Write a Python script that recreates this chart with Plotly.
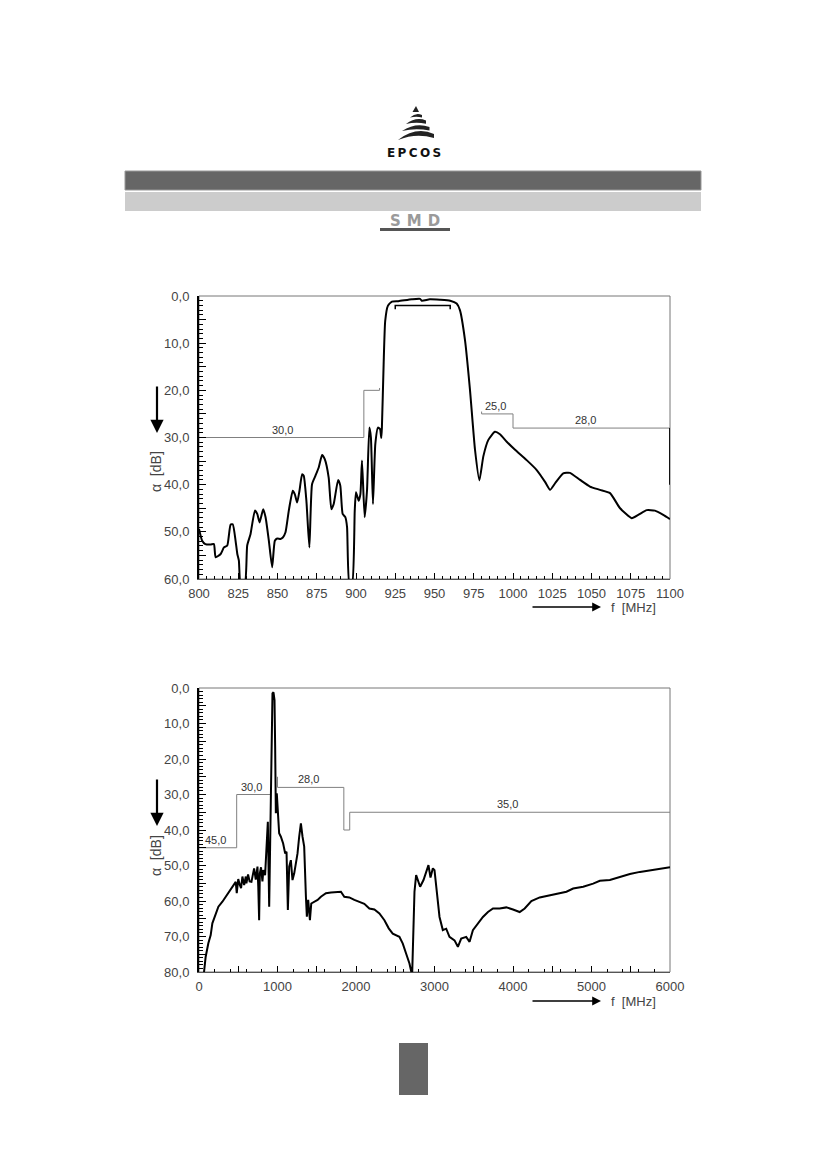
import plotly.graph_objects as go

# page is 826x1169; the browser adds an 8 px body margin, so the figure is drawn 8 px in
PAGE_W, PAGE_H = 826, 1169
OFF = 8
W, H = PAGE_W - OFF, PAGE_H - 2 * OFF

# ---------------- data: top chart (800 - 1100 MHz) ----------------
top_f = [800, 802, 804, 807.4, 809.5, 810.6, 813.8, 815.9, 818, 820.1, 821.5, 823.3, 824.4, 825.4, 826.5, 829.2,
         830.7, 832.8, 835.6, 837.1, 838.6, 840.9, 842.4, 844.5, 846.6, 848.3, 849.8, 851.9, 853.4, 855.1,
         857.2, 859.7, 861, 862.5, 864, 865.7, 866.7, 868.4, 870.3, 872, 874.2, 876.3, 878.4, 880.1, 882.6,
         884.3, 885.8, 888.6, 890, 891.5, 893.2, 894.3, 895.8, 897.5, 899.2, 900, 901.7, 902.8, 903.8, 905.5,
         907, 908.5, 909.5, 910.8, 912.3, 914, 915.3, 916.1, 916.5, 917.6, 918.6, 920.3, 922.9, 927, 935.6,
         940.8, 941.9, 947, 953.5, 960, 964.1, 966.2, 969.4, 972.6, 975.8, 978.6, 981.1, 984.3, 988.5,
         991.7, 996, 1001.3, 1008.7, 1015.1, 1020.4, 1023.6, 1026.8, 1032, 1036.3, 1042.7, 1049, 1055.4,
         1061.8, 1068.2, 1075.6, 1079.8, 1085.2, 1090.4, 1095.7, 1100]
top_att = [49.4, 51.9, 52.6, 52.7, 52.6, 55.4, 54.7, 53.3, 52.9, 48.5, 48.4, 51.9, 54.7, 56.1, 61, 61,
           52.9, 50.5, 45.5, 46.2, 48, 45.2, 46.9, 51.9, 57.5, 51.9, 51.4, 51.5, 51.2, 50.1,
           45.5, 41.3, 42, 43.8, 41.3, 37.8, 38.1, 43.4, 53.3, 39.9, 38.1, 36.3, 33.7, 34.6, 38.5,
           45.2, 44.1, 39, 40.2, 46.2, 46.9, 49, 61, 61, 45.5, 41.6, 43.4, 42, 34.9, 46.9,
           41.3, 27.9, 30, 44.1, 31.4, 27.9, 28.2, 30.1, 27.9, 14.5, 5.3, 2.1, 1.2, 1.1, 0.7,
           0.6, 1.0, 0.7, 0.8, 1.0, 1.6, 3.0, 9.3, 19.9, 32.6, 39.1, 34.0, 30.5, 28.8,
           29.3, 30.9, 32.6, 34.8, 36.9, 39.4, 41.1, 39.7, 37.6, 37.5, 39.0, 40.4, 41.1,
           41.8, 45.0, 47.1, 46.4, 45.4, 45.5, 46.4, 47.3]

# specification (tolerance scheme) lines, top chart
top_spec_low_f = [800, 905, 905, 915, 915]
top_spec_low_a = [30, 30, 20, 20, 19.5]
top_spec_pass_f = [925, 925, 960, 960]
top_spec_pass_a = [2.8, 2.0, 2.0, 2.8]
top_spec_high_f = [980, 980, 1000, 1000, 1100]
top_spec_high_a = [24.5, 25, 25, 28, 28]
top_spec_edge_f = [1100, 1100]
top_spec_edge_a = [28, 40]
top_spec_labels = ["30,0", "25,0", "28,0"]
top_spec_label_f = [853, 989, 1046]
top_spec_label_a = [30, 25, 28]

top_xticks = [800, 825, 850, 875, 900, 925, 950, 975, 1000, 1025, 1050, 1075, 1100]
top_yticks = [0, 5, 10, 15, 20, 25, 30, 35, 40, 45, 50, 55, 60]
top_ylabels = ["0,0", "", "10,0", "", "20,0", "", "30,0", "", "40,0", "", "50,0", "", "60,0"]

# ---------------- data: bottom chart (0 - 6000 MHz) ----------------
bot_f = [64, 85, 119, 149, 170, 204, 247, 298, 340, 383, 425, 468, 481, 500, 520, 536, 553, 575, 596, 604,
         625, 645, 668, 685, 702, 723, 735, 745, 755, 766, 775, 790, 808, 820,
         842, 860, 877, 894, 911, 923, 936, 949, 962, 970, 979, 991, 1004, 1021, 1043, 1072,
         1098, 1115, 1132, 1149, 1170, 1191, 1213, 1234, 1255, 1276, 1298, 1319, 1340, 1362, 1374, 1391,
         1413, 1430, 1468, 1511, 1553, 1617, 1681, 1745, 1808, 1851, 1915, 1979, 2043, 2106, 2170, 2234,
         2298, 2362, 2417, 2468, 2553, 2596, 2638, 2681, 2715, 2745, 2766, 2787, 2817, 2860, 2894, 2923,
         2949, 2979, 3000, 3030, 3064, 3106, 3149, 3191, 3255, 3298, 3340, 3404, 3447, 3489, 3553, 3617,
         3681, 3745, 3830, 3915, 4000, 4085, 4149, 4234, 4340, 4468, 4596, 4681, 4766, 4894, 5021, 5106,
         5234, 5362, 5489, 5617, 5787, 5915, 6000]
bot_att = [80, 75.7, 71.9, 69.6, 66.3, 64.4, 61.6, 60.2, 58.8, 57.4, 56, 54.6, 57.8, 53.8, 55.5, 56.4, 53.1, 55.5, 53.1, 55,
           52.5, 54.5, 54.6, 52, 50.8, 54, 51, 50.3, 56, 65.4, 52.2, 50.5, 54.5, 51.3,
           52.7, 42.8, 37.7, 61.6, 37.2, 11.8, 1.5, 1.2, 3.4, 16.5, 35.3, 29.7, 34.4, 40.9, 41.9, 43.8,
           46.6, 46.1, 62.5, 50.3, 48.5, 54.1, 52.2, 49.4, 46.6, 41.9, 38.1, 41.9, 44.7, 58.8, 64.4, 59.7,
           65.4, 60.7, 60.2, 59.7, 58.8, 57.8, 57.6, 57.4, 57.4, 58.8, 59, 59.7, 60.2, 60.8, 62.1, 62.4,
           63.5, 65.4, 67.7, 69.2, 70.1, 72, 74.8, 77.6, 81, 57.4, 52.7, 54.1, 56, 54.1, 51.8, 49.9,
           53.4, 50.8, 51.3, 57.9, 64.5, 68.2, 67.8, 70.1, 71.1, 72.9, 70.6, 70.1, 71.5, 68.2, 66.4, 64.5,
           63.1, 62.1, 62.1, 61.8, 62.4, 63.1, 62.1, 60, 59, 58.4, 57.7, 57.4, 56.5, 56, 55.1, 54.3,
           54.1, 53.2, 52.4, 51.8, 51.3, 50.8, 50.5]

bot_spec_low_f = [0, 480, 480, 905]
bot_spec_low_a = [45, 45, 30, 30]
bot_spec_high_f = [1000, 1000, 1845, 1845, 1920, 1920, 6000]
bot_spec_high_a = [25, 28, 28, 40, 40, 35, 35]
bot_spec_labels = ["45,0", "30,0", "28,0", "35,0"]
bot_spec_label_f = [205, 664, 1390, 3930]
bot_spec_label_a = [45, 30, 28, 35]

bot_xticks = [0, 500, 1000, 1500, 2000, 2500, 3000, 3500, 4000, 4500, 5000, 5500, 6000]
bot_xlabels = ["0", "", "1000", "", "2000", "", "3000", "", "4000", "", "5000", "", "6000"]
bot_yticks = [0, 5, 10, 15, 20, 25, 30, 35, 40, 45, 50, 55, 60, 65, 70, 75, 80]
bot_ylabels = ["0,0", "", "10,0", "", "20,0", "", "30,0", "", "40,0", "", "50,0", "", "60,0", "", "70,0", "", "80,0"]


def PX(x):
    return (x - OFF) / W


def PY(y):
    return 1 - (y - OFF) / H


SPEC = "#808080"
TXT = "#444444"
FONT = "Liberation Sans"

fig = go.Figure()

# top chart traces
fig.add_trace(go.Scatter(x=top_spec_low_f, y=top_spec_low_a, mode="lines", line=dict(color=SPEC, width=1), xaxis="x", yaxis="y"))
fig.add_trace(go.Scatter(x=top_spec_high_f, y=top_spec_high_a, mode="lines", line=dict(color=SPEC, width=1), xaxis="x", yaxis="y"))
fig.add_trace(go.Scatter(x=top_spec_pass_f, y=top_spec_pass_a, mode="lines", line=dict(color="black", width=1.5), xaxis="x", yaxis="y"))
fig.add_trace(go.Scatter(x=top_spec_edge_f, y=top_spec_edge_a, mode="lines", line=dict(color="black", width=1.8), xaxis="x", yaxis="y"))
fig.add_trace(go.Scatter(x=top_f, y=top_att, mode="lines", line=dict(color="black", width=2, shape="spline", smoothing=0.5), xaxis="x", yaxis="y"))

# bottom chart traces
fig.add_trace(go.Scatter(x=bot_spec_low_f, y=bot_spec_low_a, mode="lines", line=dict(color=SPEC, width=1), xaxis="x2", yaxis="y2"))
fig.add_trace(go.Scatter(x=bot_spec_high_f, y=bot_spec_high_a, mode="lines", line=dict(color=SPEC, width=1), xaxis="x2", yaxis="y2"))
fig.add_trace(go.Scatter(x=bot_f, y=bot_att, mode="lines", line=dict(color="black", width=2), xaxis="x2", yaxis="y2"))

ann = []
for t, f, a in zip(top_spec_labels, top_spec_label_f, top_spec_label_a):
    ann.append(dict(x=f, y=a, xref="x", yref="y", text=t, showarrow=False, xanchor="center", yanchor="bottom",
                    font=dict(size=11, color="#333", family=FONT)))
for t, f, a in zip(bot_spec_labels, bot_spec_label_f, bot_spec_label_a):
    ann.append(dict(x=f, y=a, xref="x2", yref="y2", text=t, showarrow=False, xanchor="center", yanchor="bottom",
                    font=dict(size=11, color="#333", family=FONT)))

# axis titles + arrows
for (ymid, yarrow_head, yarrow_tail) in [(472, 433, 385), (856, 826, 778)]:
    ann.append(dict(x=PX(156), y=PY(ymid), xref="paper", yref="paper", text="α  [dB]", textangle=-90,
                    xanchor="center", yanchor="middle",
                    showarrow=False, font=dict(size=14, color=TXT, family=FONT)))
    ann.append(dict(x=PX(157), y=PY(yarrow_head), xref="paper", yref="paper", ax=0, ay=-(yarrow_head - yarrow_tail),
                    axref="pixel", ayref="pixel", text="", showarrow=True, arrowhead=2, arrowsize=1.2,
                    arrowwidth=2.2, arrowcolor="black"))
for yx in [607, 1001]:
    ann.append(dict(x=PX(609), y=PY(yx), xref="paper", yref="paper", text="f  [MHz]", xanchor="left",
                    yanchor="middle", showarrow=False, font=dict(size=13, color=TXT, family=FONT)))
    ann.append(dict(x=PX(601), y=PY(yx), xref="paper", yref="paper", ax=-70, ay=0, axref="pixel", ayref="pixel",
                    text="", showarrow=True, arrowhead=2, arrowsize=1.1, arrowwidth=1.6, arrowcolor="black"))

# logo texts
ann.append(dict(x=PX(414), y=PY(153), xref="paper", yref="paper", text="E\u2009P\u2009C\u2009O\u2009S", showarrow=False,
                xanchor="center", yanchor="middle",
                font=dict(size=12, color="#111", family="DejaVu Sans", weight="bold")))
ann.append(dict(x=PX(415), y=PY(221), xref="paper", yref="paper", text="S\u2009\u2009M\u2009\u2009D", showarrow=False,
                xanchor="center", yanchor="middle",
                font=dict(size=15, color="#9a9a9a", family="DejaVu Sans", weight="bold")))

shapes = []
# header bars
shapes.append(dict(type="rect", xref="paper", yref="paper", x0=PX(125), x1=PX(701), y0=PY(190), y1=PY(171),
                   fillcolor="#666666", line=dict(color="#999999", width=1)))
shapes.append(dict(type="rect", xref="paper", yref="paper", x0=PX(125), x1=PX(701), y0=PY(211), y1=PY(192),
                   fillcolor="#cccccc", line=dict(width=0)))
# SMD underline
shapes.append(dict(type="rect", xref="paper", yref="paper", x0=PX(380), x1=PX(450), y0=PY(231), y1=PY(228),
                   fillcolor="#555555", line=dict(width=0)))
# bottom page marker
shapes.append(dict(type="rect", xref="paper", yref="paper", x0=PX(399), x1=PX(428), y0=PY(1095), y1=PY(1043),
                   fillcolor="#666666", line=dict(width=0)))


# logo triangle built of curved stripes
def P(x, y):
    return f"{PX(x):.5f},{PY(y):.5f}"


shapes.append(dict(type="path", xref="paper", yref="paper",
                   path=f"M {P(416,106)} L {P(419,112)} L {P(412.5,112)} Z", fillcolor="#222", line=dict(width=0)))
stripes = [(410, 117.5, 422, 115, 3, 3), (406, 124, 426, 120.5, 4, 4), (402, 131, 429.5, 127, 4.5, 5),
           (398, 140, 434, 134, 5, 8)]
for xl, yl, xr, yr, t, c in stripes:
    cx = (xl + xr) / 2
    cy = min(yl, yr) - c
    path = f"M {P(xl,yl)} Q {P(cx,cy)} {P(xr,yr)} L {P(xr,yr+t*0.8)} Q {P(cx,cy+t*1.3)} {P(xl,yl)} Z"
    shapes.append(dict(type="path", xref="paper", yref="paper", path=path, fillcolor="#222", line=dict(width=0)))

# plot frames
for xr_, yr_ in [("x", "y"), ("x2", "y2")]:
    shapes.append(dict(type="rect", xref=f"{xr_} domain", yref=f"{yr_} domain", x0=0, x1=1, y0=0, y1=1,
                       line=dict(color="#777777", width=1), layer="below"))

xdom = [PX(199), PX(670)]
axis_font = dict(size=13, color=TXT, family=FONT)

fig.update_layout(
    width=W, height=H, margin=dict(l=0, r=0, t=0, b=0, autoexpand=False),
    paper_bgcolor="white", plot_bgcolor="white", showlegend=False,
    annotations=ann, shapes=shapes,
    xaxis=dict(domain=xdom, anchor="y", range=[800, 1100], tickvals=top_xticks,
               ticktext=[str(v) for v in top_xticks], ticks="inside", ticklen=6, tickcolor="black",
               minor=dict(dtick=5, ticks="inside", ticklen=3, tickcolor="black"),
               showgrid=False, zeroline=False, showline=True, linecolor="#555", linewidth=1,
               tickfont=axis_font, ticklabelstandoff=2, automargin=False),
    yaxis=dict(domain=[PY(579), PY(296)], anchor="x", range=[60, 0], tickvals=top_yticks, ticktext=top_ylabels,
               ticks="inside", ticklen=7, tickcolor="black",
               minor=dict(dtick=1, ticks="inside", ticklen=4, tickcolor="black"),
               showgrid=False, zeroline=False, showline=True, linecolor="black", linewidth=2,
               tickfont=axis_font, ticklabelstandoff=5, automargin=False),
    xaxis2=dict(domain=xdom, anchor="y2", range=[0, 6000], tickvals=bot_xticks, ticktext=bot_xlabels,
                ticks="inside", ticklen=6, tickcolor="black",
                minor=dict(dtick=200, ticks="inside", ticklen=3, tickcolor="black"),
                showgrid=False, zeroline=False, showline=True, linecolor="#555", linewidth=1,
                tickfont=axis_font, ticklabelstandoff=2, automargin=False),
    yaxis2=dict(domain=[PY(972), PY(688)], anchor="x2", range=[80, 0], tickvals=bot_yticks, ticktext=bot_ylabels,
                ticks="inside", ticklen=7, tickcolor="black",
                minor=dict(dtick=1, ticks="inside", ticklen=4, tickcolor="black"),
                showgrid=False, zeroline=False, showline=True, linecolor="black", linewidth=2,
                tickfont=axis_font, ticklabelstandoff=5, automargin=False),
)

fig.write_html("out.html")
